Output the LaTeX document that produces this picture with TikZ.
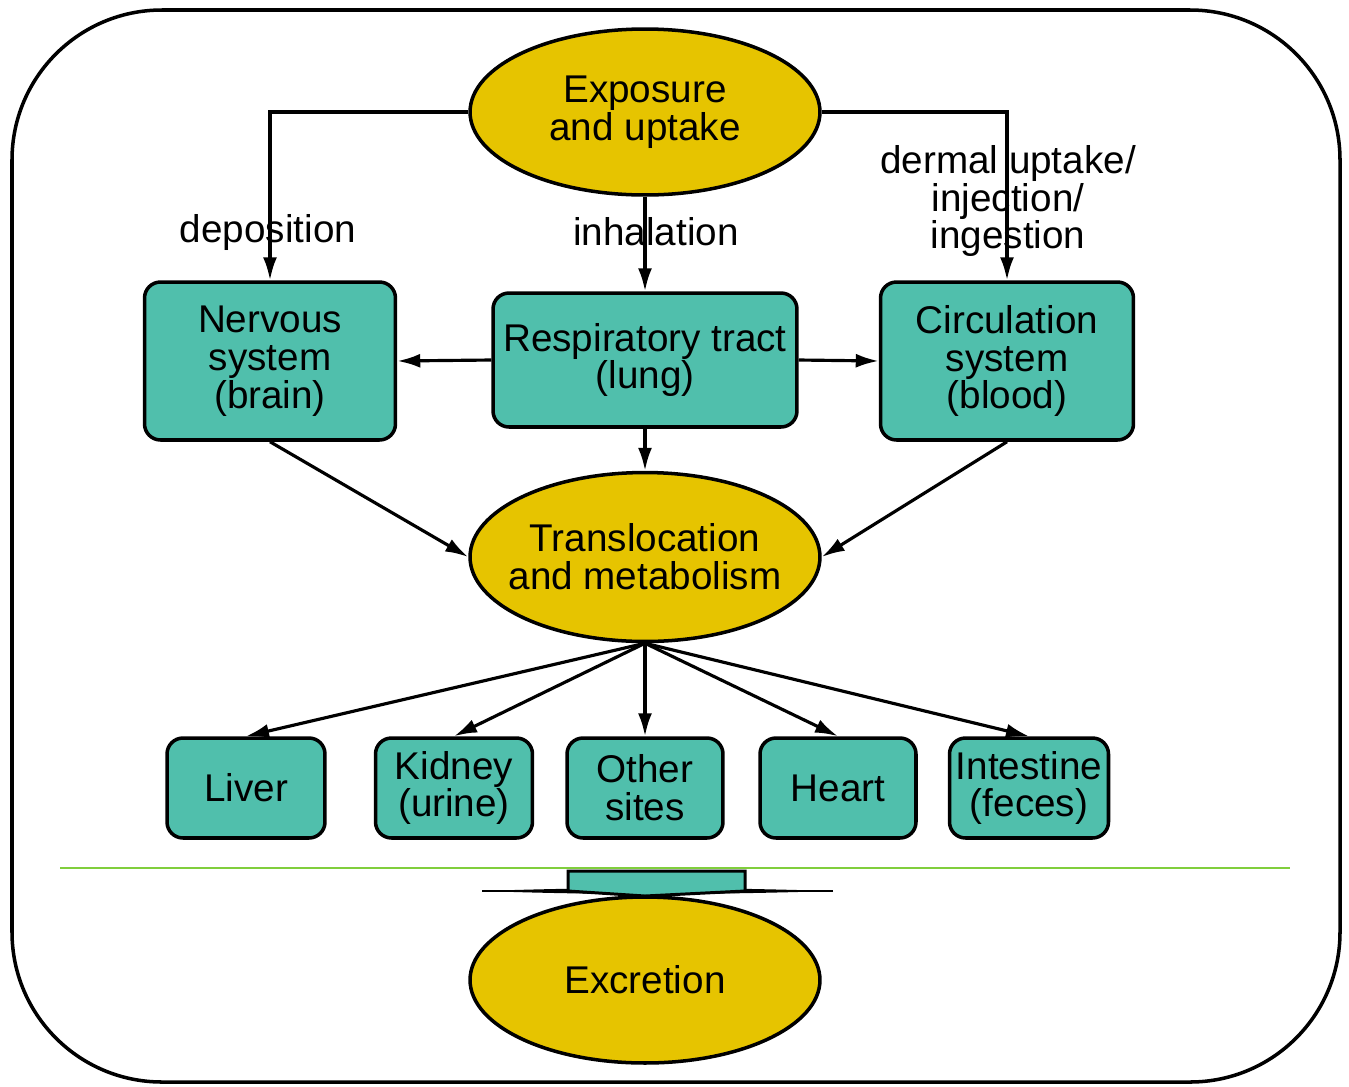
\documentclass[tikz,border=0pt]{standalone}
\usepackage{fontspec}
\setmainfont{Liberation Sans}
\usetikzlibrary{shapes.geometric,arrows.meta}
\definecolor{tealbox}{RGB}{80,191,172}
\definecolor{yelloval}{RGB}{230,196,0}
\definecolor{sepgreen}{RGB}{128,206,60}
\begin{document}
\begin{tikzpicture}[x=0.02cm,y=-0.02cm,
  font=\fontsize{22}{21.5}\selectfont,
  stage/.style={ellipse,draw,line width=2pt,fill=yelloval,inner xsep=-30pt,inner ysep=-10pt,align=center,minimum width=7cm,minimum height=3.32cm},
  organ/.style={rectangle,draw,line width=2pt,fill=tealbox,rounded corners=0.32cm,inner sep=0pt,align=center},
  route/.style={align=center},
  arr/.style={-{Latex[length=0.46cm,width=0.28cm]},line width=1.8pt}]
\useasboundingbox (0,0) rectangle (1349,1086);

% Frame
\draw[line width=2pt,rounded corners=3cm] (12,10) rectangle (1340,1082);

% Stages
\node[stage] (Expo) at (645,112) {Exposure\\and uptake};
\node[stage,minimum height=3.38cm] (Trans) at (645,557) {Translocation\\and metabolism};

% Entry organs
\node[organ,minimum width=5.02cm,minimum height=3.16cm] (Nerv) at (270,361) {Nervous\\system\\(brain)};
\node[organ,minimum width=6.08cm,minimum height=2.68cm] (Resp) at (645,360) {Respiratory tract\\(lung)};
\node[organ,minimum width=5.06cm,minimum height=3.16cm] (Circ) at (1007,361) {Circulation\\system\\(blood)};

% Target organs
\node[organ,minimum width=3.16cm,minimum height=2cm] (Liver) at (246,788) {Liver};
\node[organ,minimum width=3.14cm,minimum height=2cm] (Kidney) at (454,788) {Kidney\\(urine)};
\node[organ,minimum width=3.12cm,minimum height=2cm] (Other) at (645,788) {Other\\sites};
\node[organ,minimum width=3.12cm,minimum height=2cm] (Heart) at (838,788) {Heart};
\node[organ,minimum width=3.18cm,minimum height=2cm] (Intest) at (1029,788) {Intestine\\(feces)};

% Routes of uptake
\node[route] (Dep) at (268,232) {deposition};
\node[route] (Inh) at (656,232) {inhalation};
\node[route] (Derm) at (1008,201) {dermal uptake/\\injection/\\ingestion};
\draw[arr] (Expo.west) -| (Nerv.north);
\draw[arr] (Expo.south) -- (Resp.north);
\draw[arr] (Expo.east) -| (Circ.north);

% Lung to brain and blood
\draw[arr] (Resp.west) -- (Nerv.east);
\draw[arr] (Resp.east) -- (Circ.west);

% Into translocation
\draw[arr] (Resp.south) -- (Trans.north);
\draw[arr] (Nerv.south) -- (Trans.west);
\draw[arr] (Circ.south) -- (Trans.east);

% Distribution
\foreach \t in {Liver,Kidney,Other,Heart,Intest}
  \draw[arr] (Trans.south) -- (\t.north);

% Separator
\draw[sepgreen,line width=1.3pt] (60,868) -- (1290,868);

% Excretion
\node[stage] (Excr) at (645,980) {Excretion};
\draw[line width=1.5pt] (482,891) -- (833,891);
\fill (482,891) .. controls (600,887) and (700,887) .. (833,891)
  .. controls (700,895) and (600,895) .. (482,891) -- cycle;
\filldraw[fill=tealbox,line width=1.7pt] (568,871) -- (745,871) -- (745,891)
  -- (645,896) -- (568,891) -- cycle;

\end{tikzpicture}
\end{document}
